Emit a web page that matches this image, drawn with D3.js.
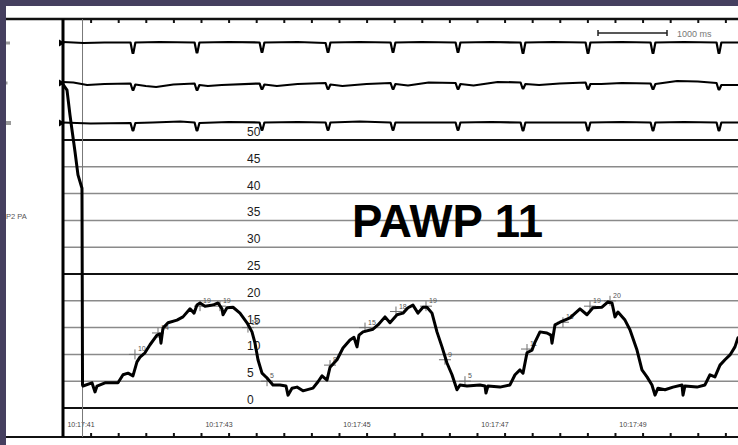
<!DOCTYPE html>
<html>
<head>
<meta charset="utf-8">
<script src="https://cdn.jsdelivr.net/npm/d3@7"></script>
<style>
  html, body { margin: 0; padding: 0; background: #fff; overflow: hidden; }
  svg { display: block; }
  text { font-family: "Liberation Sans", Arial, Helvetica, sans-serif; }
</style>
</head>
<body>
<svg id="chart" width="738" height="445"></svg>
<script>
// ---- Recording data (time in seconds from start of sweep) ----

// Pressure channel P2 PA, mmHg
const pressureTrace = [
  [0.000, 60.4], [0.058, 59.3], [0.101, 54.7], [0.130, 51.9], [0.174, 47.8], [0.217, 43.5],
  [0.275, 41.0], [0.283, 4.3], [0.290, 4.1], [0.420, 4.7], [0.464, 3.0], [0.493, 4.1],
  [0.609, 4.7], [0.797, 4.7], [0.870, 6.2], [0.942, 6.5], [1.014, 6.0], [1.072, 8.6],
  [1.116, 9.5], [1.188, 10.3], [1.261, 11.8], [1.362, 13.6], [1.406, 13.8], [1.420, 12.1],
  [1.449, 14.9], [1.522, 15.9], [1.652, 16.4], [1.739, 17.0], [1.841, 18.5], [1.899, 17.7],
  [1.942, 19.2], [1.986, 19.6], [2.058, 19.0], [2.174, 19.2], [2.246, 19.6], [2.304, 18.5],
  [2.319, 17.4], [2.377, 18.7], [2.464, 18.8], [2.565, 17.7], [2.667, 15.9], [2.739, 14.2],
  [2.783, 12.1], [2.826, 9.0], [2.884, 6.5], [2.957, 5.6], [3.043, 4.3], [3.145, 4.3],
  [3.232, 4.1], [3.261, 2.4], [3.319, 3.7], [3.391, 3.9], [3.478, 3.2], [3.623, 3.7],
  [3.696, 4.9], [3.754, 6.0], [3.826, 5.2], [3.870, 7.6], [3.971, 9.0], [4.058, 11.2],
  [4.159, 12.7], [4.217, 13.2], [4.261, 11.4], [4.290, 13.6], [4.348, 14.2], [4.493, 14.7],
  [4.565, 15.5], [4.667, 17.0], [4.739, 15.9], [4.841, 17.4], [4.928, 17.7], [5.000, 18.7],
  [5.072, 19.2], [5.145, 17.7], [5.217, 18.8], [5.275, 18.8], [5.348, 17.7], [5.420, 14.2],
  [5.493, 11.4], [5.565, 8.4], [5.638, 6.2], [5.710, 3.4], [5.754, 4.3], [5.855, 4.1],
  [6.043, 4.3], [6.116, 4.1], [6.130, 2.8], [6.159, 4.1], [6.333, 3.9], [6.478, 4.3],
  [6.551, 6.2], [6.623, 7.1], [6.667, 6.5], [6.725, 10.3], [6.797, 10.8], [6.841, 12.3],
  [6.913, 14.2], [7.014, 14.0], [7.072, 13.6], [7.087, 12.1], [7.130, 15.5], [7.203, 16.0],
  [7.348, 16.8], [7.493, 18.5], [7.594, 17.4], [7.681, 18.7], [7.812, 18.8], [7.899, 19.8],
  [7.957, 19.6], [8.000, 17.0], [8.043, 17.9], [8.145, 16.4], [8.217, 14.6], [8.319, 10.8],
  [8.391, 7.1], [8.464, 5.8], [8.536, 4.3], [8.580, 2.4], [8.623, 3.7], [8.725, 3.4],
  [8.841, 3.9], [8.971, 4.3], [8.986, 2.4], [9.014, 4.1], [9.188, 3.9], [9.304, 4.3],
  [9.377, 6.2], [9.449, 5.8], [9.522, 8.0], [9.594, 9.0], [9.667, 9.9], [9.739, 11.4],
  [9.783, 13.1]
];

// Measurement cursors on the pressure wave
const markTimes  = [1.043, 1.377, 1.986, 2.275, 2.681, 2.957, 3.870, 4.377, 4.826, 5.261, 5.536, 5.826, 6.725, 7.246, 7.638, 7.928];
const markValues = [10, 14, 19, 19, 15, 5, 8, 15, 18, 19, 9, 5, 11, 16, 19, 20];

// ECG leads, mV
const lead1 = [
  [0, 0.1], [0.3, 0], [0.6, 0.05],
  [0.979, 0.05], [1.008, -1.0], [1.020, -1.0], [1.049, 0.05], [1.4, 0.1],
  [1.907, 0.05], [1.936, -0.95], [1.948, -0.95], [1.977, 0.05], [2.4, 0.1],
  [2.849, 0.05], [2.878, -0.9], [2.890, -0.9], [2.919, 0.05], [3.4, 0.1],
  [3.806, 0], [3.835, -0.9], [3.847, -0.9], [3.876, 0.05], [4.3, 0.1],
  [4.748, 0.05], [4.777, -0.9], [4.789, -0.9], [4.818, 0.05], [5.2, 0.1],
  [5.690, 0.05], [5.719, -0.9], [5.731, -0.9], [5.760, 0.05], [6.2, 0.1],
  [6.632, 0.05], [6.661, -1.0], [6.673, -1.0], [6.702, 0.05], [7.1, 0.1],
  [7.574, 0.05], [7.603, -1.0], [7.615, -1.0], [7.644, 0.05], [8.1, 0.1],
  [8.516, 0.05], [8.545, -1.0], [8.557, -1.0], [8.586, 0.05], [9.0, 0.1],
  [9.472, 0.05], [9.501, -1.0], [9.513, -1.0], [9.542, 0.05], [9.783, 0.05]
];
const lead2 = [
  [0, 0.1], [0.15, 0.05], [0.35, -0.2], [0.6, -0.1],
  [0.979, -0.05], [1.008, -0.7], [1.020, -0.7], [1.049, -0.15], [1.2, -0.3], [1.35, -0.4], [1.6, -0.15],
  [1.907, -0.05], [1.936, -0.7], [1.948, -0.7], [1.977, -0.2], [2.1, -0.3], [2.3, -0.2],
  [2.849, -0.05], [2.878, -0.6], [2.890, -0.6], [2.919, -0.15], [3.1, -0.3], [3.4, -0.1],
  [3.806, 0], [3.835, -0.6], [3.847, -0.6], [3.876, -0.15], [4.05, -0.3], [4.4, -0.1],
  [4.748, 0], [4.777, -0.6], [4.789, -0.6], [4.818, -0.1], [5.0, -0.25], [5.3, 0.05],
  [5.690, 0], [5.719, -0.6], [5.731, -0.6], [5.760, -0.1], [5.95, -0.25], [6.3, 0.1],
  [6.632, 0.05], [6.661, -0.55], [6.673, -0.55], [6.702, -0.1], [6.9, -0.2], [7.2, -0.05],
  [7.574, 0.05], [7.603, -0.6], [7.615, -0.6], [7.644, -0.1], [7.8, -0.1], [8.1, 0],
  [8.516, -0.05], [8.545, -0.6], [8.557, -0.6], [8.586, -0.1], [8.9, 0.2], [9.2, 0.15],
  [9.472, 0], [9.501, -0.65], [9.513, -0.65], [9.542, -0.2], [9.783, -0.2]
];
const lead3 = [
  [0, 0.05], [0.4, -0.05],
  [0.979, 0], [1.008, -0.75], [1.020, -0.75], [1.049, 0], [1.3, 0.05], [1.7, 0.15],
  [1.907, 0.05], [1.936, -0.75], [1.948, -0.75], [1.977, 0], [2.4, 0.1],
  [2.849, 0.05], [2.878, -0.7], [2.890, -0.7], [2.919, 0.05], [3.4, 0.1],
  [3.806, 0.05], [3.835, -0.7], [3.847, -0.7], [3.876, 0.05], [4.3, 0.15],
  [4.748, 0.05], [4.777, -0.7], [4.789, -0.7], [4.818, 0.05], [5.3, 0.05],
  [5.690, 0.05], [5.719, -0.7], [5.731, -0.7], [5.760, 0.05], [6.2, 0.1],
  [6.632, 0.05], [6.661, -0.75], [6.673, -0.75], [6.702, 0.05], [7.2, 0.05],
  [7.574, 0.05], [7.603, -0.75], [7.615, -0.75], [7.644, 0.05], [8.1, 0.1],
  [8.516, 0.05], [8.545, -0.75], [8.557, -0.75], [8.586, 0.05], [9.0, 0.1],
  [9.472, 0.05], [9.501, -0.75], [9.513, -0.75], [9.542, 0.05], [9.783, 0.05]
];

// Clock labels along the time base
const clockLabels = ["10:17:41", "10:17:43", "10:17:45", "10:17:47", "10:17:49"];
const clockTimes  = [0.261, 2.261, 4.261, 6.261, 8.261];

// Pressure scale labelling, mmHg
const scaleLabels  = [50, 45, 40, 35, 30, 25, 20, 15, 10, 5, 0];
const minorGrid    = [45, 40, 35, 30, 20, 15, 10, 5];
const majorGrid    = [50, 25, 0];

const cursorTime = 0.283;     // vertical cursor
const calStart = 7.754;       // 1000 ms calibration bar start
const calLength = 1.0;
const sweepLength = 9.783;
const tickStep = 0.4;

// ---- Layout ----
const W = 738, H = 445;
const frame = { left: 6, top: 6 };
const plotLeft = 63, plotTop = 19, plotBottom = 437;
const leadRows = [43, 83, 123];
const ink = "#000";

const svg = d3.select("#chart");

// Outer frame
svg.append("rect").attr("x", 0).attr("y", 0).attr("width", W).attr("height", H).attr("fill", "#453f5f");
svg.append("rect").attr("x", frame.left).attr("y", frame.top).attr("width", W - frame.left).attr("height", H - frame.top).attr("fill", "#fff");

// Scales
const x = d3.scaleLinear().domain([0, sweepLength]).range([plotLeft, W]);
const yP = d3.scaleLinear().domain([0, 50]).range([408, 140]);
const yLead = leadRows.map(r => d3.scaleLinear().domain([-2, 2]).range([r + 20, r - 20]));

// Pressure grid
svg.append("g").selectAll("line").data(minorGrid).join("line")
  .attr("x1", plotLeft).attr("x2", W)
  .attr("y1", d => yP(d)).attr("y2", d => yP(d))
  .attr("stroke", "#8a8a8a").attr("stroke-width", 1.5);

svg.append("g").selectAll("line").data(majorGrid).join("line")
  .attr("x1", plotLeft).attr("x2", W)
  .attr("y1", d => yP(d)).attr("y2", d => yP(d))
  .attr("stroke", "#111").attr("stroke-width", 2);

// Scale labels
svg.append("g").selectAll("text").data(scaleLabels).join("text")
  .attr("x", 247).attr("y", d => yP(d) - 4)
  .attr("font-size", 12).attr("fill", "#1a1a1a")
  .text(d => d);

// Big annotation
svg.append("text")
  .attr("x", 352).attr("y", 237)
  .attr("font-size", 46).attr("font-weight", "bold").attr("fill", "#000")
  .attr("textLength", 191).attr("lengthAdjust", "spacingAndGlyphs")
  .text("PAWP 11");

// Time base borders and ticks
const tickTimes = d3.range(tickStep, sweepLength, tickStep);
svg.append("line").attr("x1", frame.left).attr("x2", W).attr("y1", plotTop).attr("y2", plotTop)
  .attr("stroke", "#111").attr("stroke-width", 2.5);
svg.append("line").attr("x1", frame.left).attr("x2", W).attr("y1", plotBottom).attr("y2", plotBottom)
  .attr("stroke", "#111").attr("stroke-width", 2);

const topAxis = d3.axisBottom(x).tickValues(tickTimes).tickSize(4).tickFormat("");
svg.append("g").attr("transform", `translate(0,${plotTop})`).call(topAxis)
  .call(g => g.select(".domain").remove())
  .call(g => g.selectAll(".tick line").attr("stroke", "#111").attr("stroke-width", 2));

const bottomAxis = d3.axisTop(x).tickValues(tickTimes).tickSize(4).tickFormat("");
svg.append("g").attr("transform", `translate(0,${plotBottom})`).call(bottomAxis)
  .call(g => g.select(".domain").remove())
  .call(g => g.selectAll(".tick line").attr("stroke", "#111").attr("stroke-width", 2));

// Clock labels
svg.append("g").selectAll("text").data(clockLabels).join("text")
  .attr("x", (d, i) => x(clockTimes[i])).attr("y", 427)
  .attr("text-anchor", "middle").attr("font-size", 7).attr("fill", "#444")
  .text(d => d);

// Cursor and left border
svg.append("line").attr("x1", x(cursorTime)).attr("x2", x(cursorTime))
  .attr("y1", plotTop).attr("y2", plotBottom).attr("stroke", "#777").attr("stroke-width", 1);
svg.append("line").attr("x1", plotLeft).attr("x2", plotLeft)
  .attr("y1", plotTop).attr("y2", plotBottom).attr("stroke", "#000").attr("stroke-width", 3);

// Channel label and lead indicators
svg.append("text").attr("x", 6).attr("y", 219).attr("font-size", 7.5).attr("fill", "#555").text("P2 PA");
const leadTabs = [[4, 3], [1.5, 3], [5, 4]];
svg.append("g").selectAll("rect").data(leadRows).join("rect")
  .attr("x", 6).attr("y", (d, i) => d - leadTabs[i][1] / 2)
  .attr("width", (d, i) => leadTabs[i][0]).attr("height", (d, i) => leadTabs[i][1])
  .attr("fill", "#9a9a9a");
svg.append("g").selectAll("path").data(leadRows).join("path")
  .attr("d", d => `M${plotLeft - 4},${d - 3.5}L${plotLeft + 2},${d}L${plotLeft - 4},${d + 3.5}Z`)
  .attr("fill", "#000");

// ECG leads
const leads = [lead1, lead2, lead3];
leads.forEach((lead, i) => {
  const line = d3.line().x(d => x(d[0])).y(d => yLead[i](d[1]));
  svg.append("path").datum(lead).attr("d", line)
    .attr("fill", "none").attr("stroke", ink).attr("stroke-width", 2.2)
    .attr("stroke-linejoin", "round").attr("stroke-linecap", "round");
});

// Calibration bar
const calY = 33;
const cx0 = x(calStart), cx1 = x(calStart + calLength);
svg.append("path")
  .attr("d", `M${cx0},${calY - 3}V${calY + 3}M${cx0},${calY}H${cx1}M${cx1},${calY - 3}V${calY + 3}`)
  .attr("stroke", "#222").attr("stroke-width", 1.5).attr("fill", "none");
svg.append("text").attr("x", cx1 + 10).attr("y", calY + 3.5)
  .attr("font-size", 9).attr("fill", "#777").text("1000 ms");

// Measurement cursors
const marks = markTimes.map((t, i) => ({ t, v: markValues[i] }));
const mg = svg.append("g");
mg.selectAll("path").data(marks).join("path")
  .attr("d", d => `M${x(d.t) - 6},${yP(d.v)}H${x(d.t) + 6}M${x(d.t)},${yP(d.v) - 5}V${yP(d.v) + 5}`)
  .attr("stroke", "#6f6f6f").attr("stroke-width", 1).attr("fill", "none");

// Pressure wave
const pLine = d3.line().x(d => x(d[0])).y(d => yP(d[1]));
svg.append("path").datum(pressureTrace).attr("d", pLine)
  .attr("fill", "none").attr("stroke", ink).attr("stroke-width", 3)
  .attr("stroke-linejoin", "round").attr("stroke-linecap", "round");

mg.selectAll("text").data(marks).join("text")
  .attr("x", d => x(d.t) + 3).attr("y", d => yP(d.v) - 3)
  .attr("font-size", 7).attr("fill", "#555")
  .text(d => d.v);
</script>
</body>
</html>
